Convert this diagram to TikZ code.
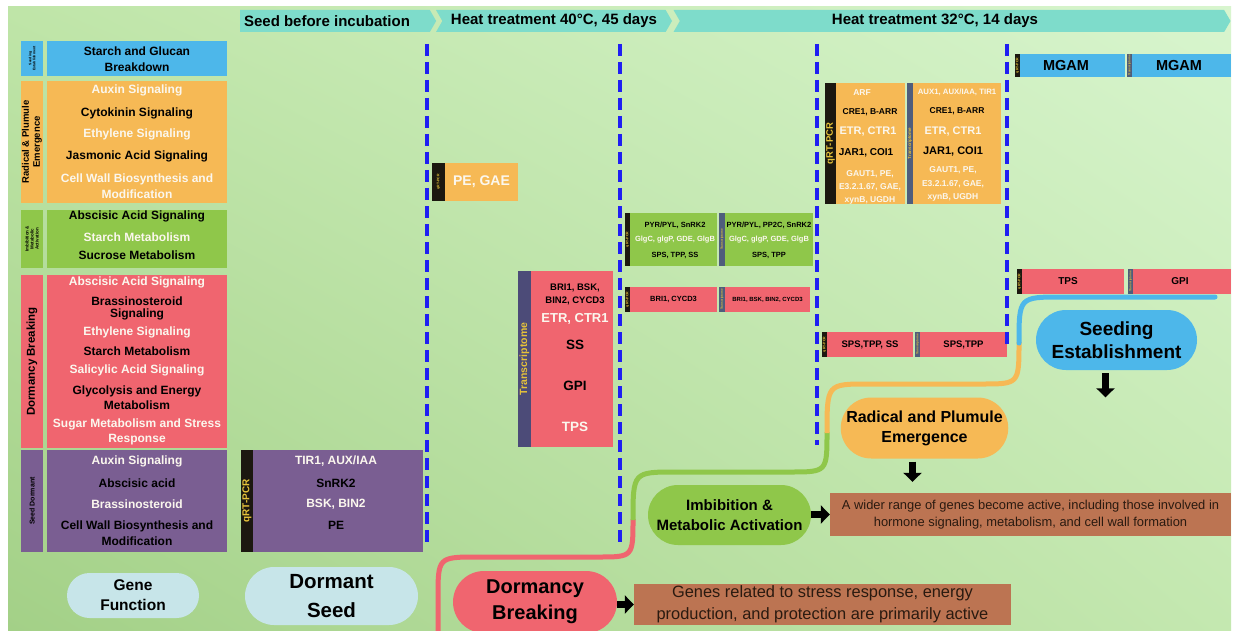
\documentclass[tikz,border=0pt]{standalone}
\usepackage{fontspec}
\setmainfont{Liberation Sans}
\usetikzlibrary{arrows.meta,shapes.symbols,shapes.misc,shadings}

\definecolor{bgtl}{HTML}{BFE5A8}
\definecolor{bgtr}{HTML}{D8F5CE}
\definecolor{bgbl}{HTML}{A3D087}
\definecolor{bgbr}{HTML}{C4E8B0}
\definecolor{phasec}{HTML}{7EDCCB}
\definecolor{seedblue}{HTML}{4DB7EA}
\definecolor{radorange}{HTML}{F6B955}
\definecolor{imbgreen}{HTML}{8FC74A}
\definecolor{dormred}{HTML}{F0656F}
\definecolor{sdpurple}{HTML}{7A5E92}
\definecolor{tagblack}{HTML}{1C1810}
\definecolor{transstrip}{HTML}{4C4B78}
\definecolor{stripgray}{HTML}{4F5D7C}
\definecolor{tagyellow}{HTML}{E6C23A}
\definecolor{pillpale}{HTML}{C7E5E9}
\definecolor{genebrown}{HTML}{BC7452}
\definecolor{browntext}{HTML}{2A1A10}
\definecolor{dashblue}{HTML}{1F1FF2}
\definecolor{offwhite}{HTML}{FBF7EE}

\tikzset{
  cellbox/.style={anchor=north west, inner sep=0pt, outer sep=0pt, draw=none},
  txt/.style 2 args={font=\bfseries\fontsize{#1}{#2}\selectfont, align=center, inner sep=0pt},
  tagtxt/.style 2 args={txt={#1}{#2}, rotate=90, text=tagyellow},
  phase/.style={signal, signal to=east, signal from=west, signal pointer angle=120,
    fill=phasec, minimum height=22pt, inner sep=0pt, txt={15}{16}},
  phaseline/.style={dashblue, line width=3.5pt, dash pattern=on 12pt off 6pt},
  stageline/.style={line width=5pt},
  pill/.style={rounded rectangle, inner sep=0pt, draw=none},
  brownbox/.style={fill=genebrown, inner sep=0pt, align=center, text=browntext},
  blockarr/.style={line width=7pt, -{Triangle[width=18pt,length=9pt]}, black}
}

% name, colour, x1, y1, x2, y2
\newcommand{\cell}[6]{%
  \node[cellbox, fill=#2, minimum width={(#5)-(#3)}, minimum height={(#6)-(#4)}] (#1) at (#3,#4) {};}

\begin{document}
\begin{tikzpicture}[x=1pt, y=-1pt]
\useasboundingbox (0,0) rectangle (1233,631);
\clip (0,0) rectangle (1233,631);
\fill[white] (0,0) rectangle (1233,631);
\shade[upper left=bgtl, upper right=bgtr, lower left=bgbl, lower right=bgbr] (8,7) rectangle (1231,631);

% phases
\node[phase, signal from=nowhere, minimum width=196pt] (ph1) at (335,21) {Seed before incubation\hspace*{16pt}};
\node[phase, minimum width=236pt] (ph2) at (554,21) {Heat treatment 40°C, 45 days};
\node[phase, minimum width=557pt] (ph3) at (952,21) {Heat treatment 32°C, 14 days\hspace*{34pt}};

% gene function column
\cell{tagse}{seedblue}{21}{41}{43}{76}
\cell{gfse}{seedblue}{47}{41}{227}{76}
\cell{tagrp}{radorange}{21}{81}{43}{203}
\cell{gfrp}{radorange}{47}{81}{227}{203}
\cell{tagim}{imbgreen}{21}{210}{43}{268}
\cell{gfim}{imbgreen}{47}{210}{227}{268}
\cell{tagdb}{dormred}{21}{275}{43}{448}
\cell{gfdb}{dormred}{47}{275}{227}{448}
\cell{tagsd}{sdpurple}{21}{450}{43}{552}
\cell{gfsd}{sdpurple}{47}{450}{227}{552}

\node[txt={3.5}{4}, rotate=90] (lse) at (tagse.center) {Seeding\\Establishment};
\node[txt={9.5}{11}, rotate=90] (lrp) at (tagrp.center) {Radical \& Plumule\\Emergence};
\node[txt={4.5}{5}, rotate=90] (lim) at (tagim.center) {Imbibition \&\\Metabolic\\Activation};
\node[txt={11.5}{12}, rotate=90] (ldb) at (tagdb.center) {Dormancy Breaking};
\node[txt={7}{8}, rotate=90] (lsd) at (tagsd.center) {Seed Dormant};

\node[txt={12}{16}] (se1) at (137,59) {Starch and Glucan\\Breakdown};
\foreach \yy/\tx/\cl [count=\i] in {90/Auxin Signaling/offwhite, 113/Cytokinin Signaling/black,
    134/Ethylene Signaling/offwhite, 156/Jasmonic Acid Signaling/black,
    186/{Cell Wall Biosynthesis and\\Modification}/offwhite}
  \node[txt={12}{16}, text=\cl] (rp\i) at (137,\yy) {\tx};
\foreach \yy/\tx/\cl [count=\i] in {216/Abscisic Acid Signaling/black, 237/Starch Metabolism/offwhite,
    255/Sucrose Metabolism/black}
  \node[txt={12}{16}, text=\cl] (im\i) at (137,\yy) {\tx};
\foreach \yy/\tx/\cl [count=\i] in {282/Abscisic Acid Signaling/offwhite, 308/{Brassinosteroid\\[-3pt]Signaling}/black,
    332/Ethylene Signaling/offwhite, 351/Starch Metabolism/black, 370/Salicylic Acid Signaling/offwhite,
    397.5/{Glycolysis and Energy\\Metabolism}/black, 432/{Sugar Metabolism and Stress\\Response}/offwhite}
  \node[txt={12}{15}, text=\cl] (db\i) at (137,\yy) {\tx};
\foreach \yy/\tx/\cl [count=\i] in {461/Auxin Signaling/offwhite, 483/Abscisic acid/black,
    504/Brassinosteroid/offwhite, 533/{Cell Wall Biosynthesis and\\Modification}/black}
  \node[txt={12}{15.5}, text=\cl] (sd\i) at (137,\yy) {\tx};

% seed before incubation
\cell{qsdtag}{tagblack}{241}{450}{253}{552}
\cell{qsd}{sdpurple}{253}{450}{423}{552}
\node[tagtxt={10}{11}] (lqsd) at (qsdtag.center) {qRT-PCR};
\foreach \yy/\tx/\cl [count=\i] in {461/{TIR1, AUX/IAA}/offwhite, 483/SnRK2/black,
    504/{BSK, BIN2}/offwhite, 525/PE/black}
  \node[txt={12}{15}, text=\cl] (qs\i) at (336,\yy) {\tx};

% heat 40
\cell{pgtag}{tagblack}{432}{163}{445}{201}
\cell{pg}{radorange}{445}{163}{518}{201}
\node[txt={14}{16}, text=offwhite] (pgl) at (pg.center) {PE, GAE};
\cell{trstrip}{transstrip}{518}{271}{531}{447}
\cell{tr}{dormred}{531}{271}{613}{447}
\node[tagtxt={10.5}{12}] (ltr) at (trstrip.center) {Transcriptome};
\node[txt={9.5}{13}] (tr1) at (575,294.5) {BRI1, BSK,\\BIN2, CYCD3};
\node[txt={13}{14}, text=offwhite] (tr2) at (575,319) {ETR, CTR1};
\node[txt={13.5}{14}] (tr3) at (575,345) {SS};
\node[txt={13.5}{14}] (tr4) at (575,386) {GPI};
\node[txt={13.5}{14}, text=offwhite] (tr5) at (575,427) {TPS};

% heat 32, first part
\cell{c3gtag}{tagblack}{625}{213}{630}{266}
\cell{c3g}{imbgreen}{630}{213}{717}{266}
\cell{c3gstrip}{stripgray}{719}{213}{725}{266}
\cell{c3gt}{imbgreen}{725}{213}{813}{266}
\cell{c3rtag}{tagblack}{625}{287}{630}{312}
\cell{c3r}{dormred}{630}{287}{717}{312}
\cell{c3rstrip}{stripgray}{719}{287}{725}{312}
\cell{c3rt}{dormred}{725}{287}{810}{312}
\foreach \yy/\tx/\cl [count=\i] in {225/{PYR/PYL, SnRK2}/black, 240/{GlgC, glgP, GDE, GlgB}/offwhite,
    255/{SPS, TPP, SS}/black}
  \node[txt={7.5}{8}, text=\cl] (c3a\i) at (675,\yy) {\tx};
\foreach \yy/\tx/\cl [count=\i] in {225/{PYR/PYL, PP2C, SnRK2}/black, 240/{GlgC, glgP, GDE, GlgB}/offwhite,
    255/{SPS, TPP}/black}
  \node[txt={7.5}{8}, text=\cl] (c3b\i) at (769,\yy) {\tx};
\node[txt={7.5}{8}] (c3r1) at (c3r.center) {BRI1, CYCD3};
\node[txt={6}{7}] (c3r2) at (c3rt.center) {BRI1, BSK, BIN2, CYCD3};

% heat 32, second part
\cell{c4otag}{tagblack}{825}{83}{836}{204}
\cell{c4o}{radorange}{836}{83}{905}{204}
\cell{c4ostrip}{stripgray}{907}{83}{913}{204}
\cell{c4ot}{radorange}{913}{83}{1001}{204}
\cell{c4rtag}{tagblack}{822}{332}{827}{357}
\cell{c4r}{dormred}{827}{332}{913}{357}
\cell{c4rstrip}{stripgray}{915}{332}{920}{357}
\cell{c4rt}{dormred}{920}{332}{1007}{357}
\node[tagtxt={9.5}{10}] (lc4o) at (c4otag.center) {qRT-PCR};
\node[tagtxt={4.5}{5}] (lc4s) at (c4ostrip.center) {Transcriptome};
\node[txt={8.5}{9}, text=offwhite] (c4a1) at (862,93) {ARF};
\node[txt={8.5}{9}] (c4a2) at (870,112) {CRE1, B-ARR};
\node[txt={11}{12}, text=offwhite] (c4a3) at (868,132) {ETR, CTR1};
\node[txt={10}{11}] (c4a4) at (866,153) {JAR1, COI1};
\node[txt={8.5}{13}, text=offwhite] (c4a5) at (870,187) {GAUT1, PE,\\E3.2.1.67, GAE,\\xynB, UGDH};
\node[txt={7.8}{9}, text=offwhite] (c4b1) at (957,92) {AUX1, AUX/IAA, TIR1};
\node[txt={8.5}{9}] (c4b2) at (957,111) {CRE1, B-ARR};
\node[txt={11}{12}, text=offwhite] (c4b3) at (953,132) {ETR, CTR1};
\node[txt={11}{12}] (c4b4) at (953,152) {JAR1, COI1};
\node[txt={8.5}{13.5}, text=offwhite] (c4b5) at (953,184) {GAUT1, PE,\\E3.2.1.67, GAE,\\xynB, UGDH};
\node[txt={9.5}{10}] (c4r1) at (c4r.center) {SPS,TPP, SS};
\node[txt={9.5}{10}] (c4r2) at (c4rt.center) {SPS,TPP};

% heat 32, last part
\cell{c5btag}{tagblack}{1015}{54}{1020}{77}
\cell{c5b}{seedblue}{1020}{54}{1125}{77}
\cell{c5bstrip}{stripgray}{1127}{54}{1132}{77}
\cell{c5bt}{seedblue}{1132}{54}{1231}{77}
\cell{c5rtag}{tagblack}{1017}{269}{1022}{294}
\cell{c5r}{dormred}{1022}{269}{1124}{294}
\cell{c5rstrip}{stripgray}{1128}{269}{1133}{294}
\cell{c5rt}{dormred}{1133}{269}{1231}{294}
\node[txt={14.5}{15}] (c5b1) at (1066,65.5) {MGAM};
\node[txt={14.5}{15}] (c5b2) at (1179,65.5) {MGAM};
\node[txt={10}{11}] (c5r1) at (1068,281.5) {TPS};
\node[txt={10}{11}] (c5r2) at (1180,281.5) {GPI};

% small side labels
\foreach \t in {pgtag, c3gtag, c3rtag, c4rtag, c5btag, c5rtag}
  \node[tagtxt={3.5}{4}] (l\t) at (\t.center) {qRT-PCR};
\foreach \t in {c3gstrip, c3rstrip, c4rstrip, c5bstrip, c5rstrip}
  \node[tagtxt={3}{3.5}] (l\t) at (\t.center) {Transcriptome};

% phase borders
\draw[phaseline] (427,44) -- (427,542);
\draw[phaseline] (620,44) -- (620,542);
\draw[phaseline] (817,44) -- (817,445);
\draw[phaseline] (1007,44) -- (1007,345);

% stage path
\draw[stageline, dormred] (438,640) -- (438,598) .. controls (438,557) .. (478,557) -- (598,557) .. controls (633,557) .. (633,519);
\draw[stageline, imbgreen] (633,520) .. controls (633,472) .. (676,472) -- (790,472) .. controls (827,472) .. (827,432);
\draw[stageline, radorange] (827,433) .. controls (827,384) .. (868,384) -- (982,384) .. controls (1019,384) .. (1019,342);
\draw[stageline, seedblue, line cap=round] (1019,343) .. controls (1019,297) .. (1062,297) -- (1215,297);

% stages
\node[pill, fill=pillpale, minimum width=132pt, minimum height=45pt, txt={15.5}{20}] (gene) at (133,595.5) {Gene\\Function};
\node[pill, fill=pillpale, minimum width=173pt, minimum height=58pt, txt={20.5}{29}] (dseed) at (331.5,596) {Dormant\\Seed};
\node[pill, fill=dormred, minimum width=164pt, minimum height=62pt, txt={20}{26}] (dorm) at (535,602) {Dormancy\\Breaking};
\node[pill, fill=imbgreen, minimum width=163pt, minimum height=60pt, txt={15}{20}] (imb) at (729.5,515) {Imbibition \&\\Metabolic Activation};
\node[pill, fill=radorange, minimum width=163pt, minimum height=61pt, txt={16}{20}] (rad) at (924.5,428) {Radical and Plumule\\Emergence};
\node[pill, fill=seedblue, minimum width=161pt, minimum height=60pt, txt={19}{23}] (seedl) at (1116.5,340) {Seeding\\Establishment};

\node[brownbox, minimum width=377pt, minimum height=41pt, font=\fontsize{16.4}{22}\selectfont] (genes1) at (822.5,604.5)
  {Genes related to stress response, energy\\production, and protection are primarily active};
\node[brownbox, minimum width=401pt, minimum height=43pt, font=\fontsize{12.9}{17}\selectfont] (genes2) at (1030.5,514.5)
  {A wider range of genes become active, including those involved in\\hormone signaling, metabolism, and cell wall formation};

\draw[blockarr] (dorm.east |- genes1.west) -- (genes1.west);
\draw[blockarr] (imb.east |- genes2.west) -- (genes2.west);
\draw[blockarr, shorten <=3pt, shorten >=11pt] ([xshift=-12pt]rad.south) -- ([xshift=-12pt]rad.south |- genes2.north);
\draw[blockarr, shorten <=3pt] ([xshift=-11pt]seedl.south) -- ([xshift=-11pt]seedl.south |- rad.north);
\end{tikzpicture}
\end{document}
